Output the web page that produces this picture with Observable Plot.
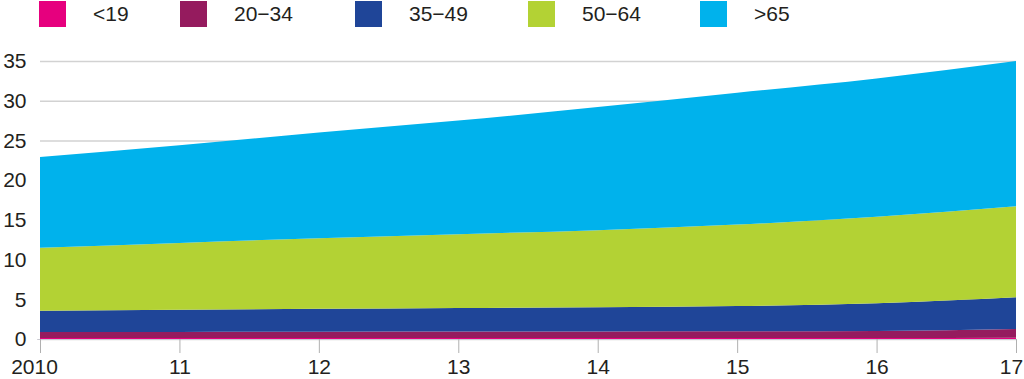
<!DOCTYPE html>
<html>
<head>
<meta charset="utf-8">
<script src="https://cdn.jsdelivr.net/npm/d3@7"></script>
<script src="https://cdn.jsdelivr.net/npm/@observablehq/plot@0.6"></script>
<style>
  html, body { margin: 0; padding: 0; background: #fff; }
  body { width: 1024px; height: 379px; position: relative; overflow: hidden;
         font-family: "Liberation Sans", Arial, Helvetica, sans-serif; color: #231f20; }
  #legend { position: absolute; left: 0; top: 0; width: 1024px; height: 30px; }
  .item { position: absolute; top: 1px; height: 26px; display: flex; align-items: center; }
  .sw { width: 27px; height: 26px; display: inline-block; }
  .lab { font-size: 21px; margin-left: 27px; line-height: 26px; }
  #chart { position: absolute; left: 0; top: 40px; }
  #chart svg { overflow: visible; }
</style>
</head>
<body>
<div id="legend"></div>
<div id="chart"></div>
<script>
const years = [2010, 2011, 2012, 2013, 2014, 2015, 2016, 2017];
const groups = ["<19", "20−34", "35−49", "50−64", ">65"];
const colors = ["#e6007e", "#951b5e", "#1f4598", "#b3d234", "#00b2ec"];
const under19 = [0.12, 0.12, 0.12, 0.12, 0.12, 0.12, 0.12, 0.15];
const age20to34 = [0.75, 0.77, 0.79, 0.81, 0.83, 0.85, 0.9, 1.12];
const age35to49 = [2.68, 2.79, 2.89, 2.97, 3.05, 3.18, 3.48, 3.98];
const age50to64 = [7.95, 8.42, 8.9, 9.3, 9.7, 10.25, 10.9, 11.45];
const over65 = [11.4, 12.3, 13.3, 14.3, 15.5, 16.6, 17.4, 18.3];
const yTicks = [0, 5, 10, 15, 20, 25, 30, 35];
const xTickLabels = ["2010", "11", "12", "13", "14", "15", "16", "17"];

const series = [under19, age20to34, age35to49, age50to64, over65];
const data = [];
series.forEach((vals, gi) => {
  vals.forEach((v, i) => data.push({year: years[i], group: groups[gi], value: v}));
});

// legend
const legendLefts = [39, 180, 355, 528, 700];
const legend = document.getElementById("legend");
groups.forEach((g, i) => {
  const it = document.createElement("div");
  it.className = "item";
  it.style.left = legendLefts[i] + "px";
  const sw = document.createElement("span");
  sw.className = "sw";
  sw.style.background = colors[i];
  const lab = document.createElement("span");
  lab.className = "lab";
  lab.textContent = g;
  it.appendChild(sw);
  it.appendChild(lab);
  legend.appendChild(it);
});

const fmt = d => xTickLabels[years.indexOf(d)];
const midYears = years.slice(1, -1);

const chart = Plot.plot({
  width: 1024,
  height: 339,
  marginLeft: 40,
  marginRight: 8,
  marginTop: 21,
  marginBottom: 40,
  style: {fontFamily: "'Liberation Sans', Arial, Helvetica, sans-serif", fontSize: "21px", color: "#231f20", background: "transparent"},
  x: {domain: [2010, 2017], ticks: years, tickFormat: fmt, label: null},
  y: {domain: [0, 35], ticks: yTicks, label: null},
  color: {domain: groups, range: colors},
  marks: [
    Plot.ruleY(yTicks, {stroke: "#d2d2d2", strokeWidth: 1.5}),
    Plot.areaY(data, {x: "year", y: "value", z: "group", fill: "group", order: groups, curve: "monotone-x"}),
    Plot.ruleY([0], {stroke: "#c8c8d0", strokeWidth: 1, x1: 2010 - 0.02, x2: 2017}),
    Plot.axisX({ticks: years, tickSize: 14, tickPadding: 6, stroke: "#b0b0b0", text: null}),
    Plot.axisX({ticks: midYears, tickSize: 14, tickPadding: 6, stroke: "none", fontSize: 21, fill: "#231f20", tickFormat: fmt}),
    Plot.axisX({ticks: [2010], tickSize: 14, tickPadding: 6, stroke: "none", fontSize: 21, fill: "#231f20", tickFormat: fmt, dx: -6}),
    Plot.axisX({ticks: [2017], tickSize: 14, tickPadding: 6, stroke: "none", fontSize: 21, fill: "#231f20", tickFormat: fmt, dx: -5}),
    Plot.axisY({ticks: yTicks, tickSize: 0, tickPadding: 14, fontSize: 21, fill: "#231f20"})
  ]
});
document.getElementById("chart").appendChild(chart);
</script>
</body>
</html>
